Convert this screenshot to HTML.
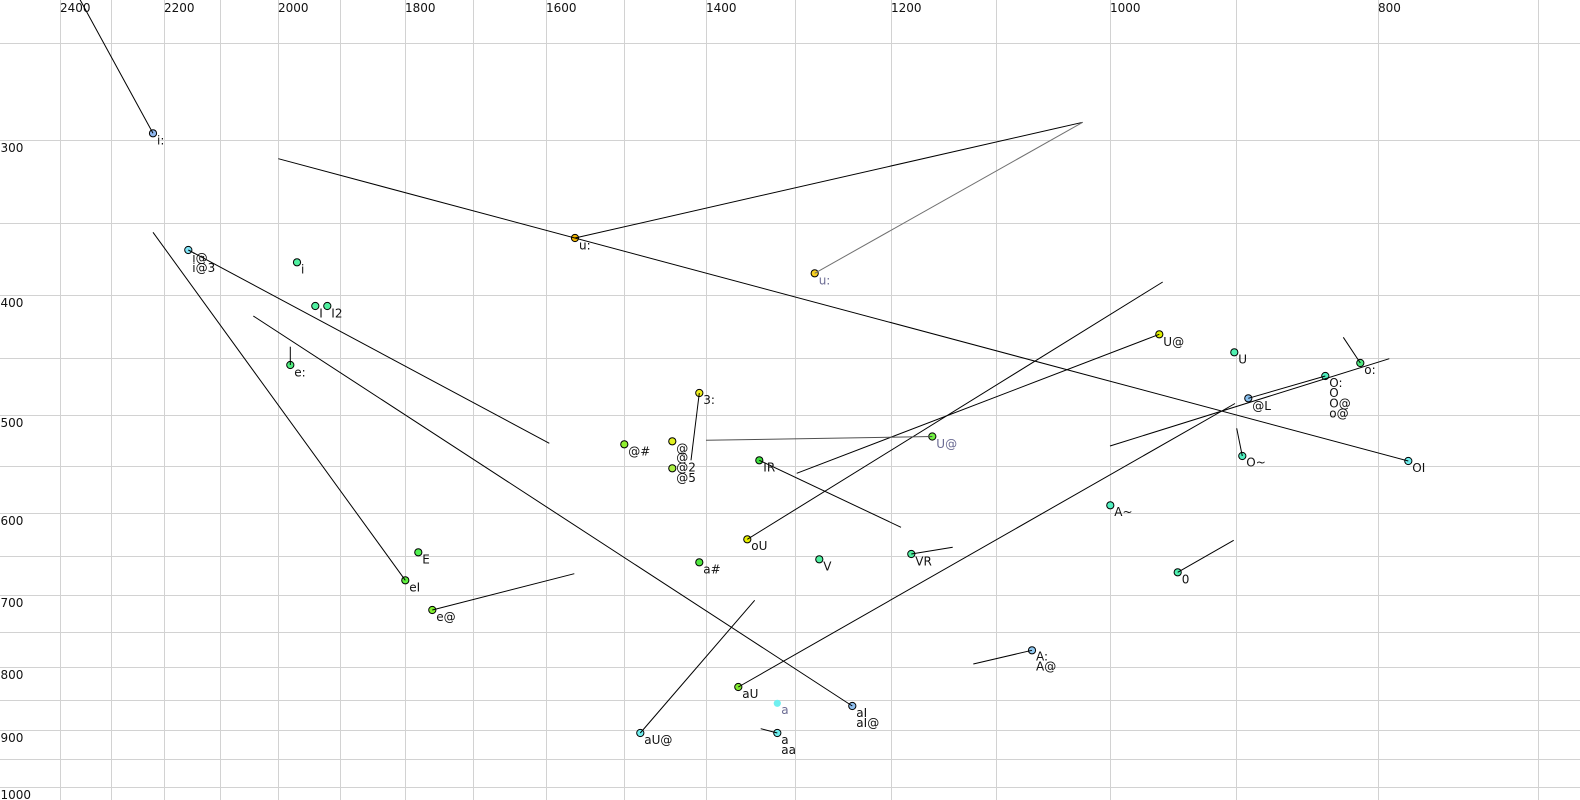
<!DOCTYPE html>
<html><head><meta charset="utf-8"><style>
html,body{margin:0;padding:0;background:#fff;}
svg{display:block;}
text{font-family:"DejaVu Sans","Liberation Sans",sans-serif;font-size:12px;}
</style></head><body>
<svg width="1580" height="800" viewBox="0 0 1580 800" xmlns="http://www.w3.org/2000/svg">
<rect width="1580" height="800" fill="#fff"/>
<g stroke="#d2d2d2" stroke-width="1" shape-rendering="crispEdges">
<line x1="60.5" y1="0" x2="60.5" y2="800"/>
<line x1="111.5" y1="0" x2="111.5" y2="800"/>
<line x1="164.5" y1="0" x2="164.5" y2="800"/>
<line x1="220.5" y1="0" x2="220.5" y2="800"/>
<line x1="278.5" y1="0" x2="278.5" y2="800"/>
<line x1="340.5" y1="0" x2="340.5" y2="800"/>
<line x1="405.5" y1="0" x2="405.5" y2="800"/>
<line x1="473.5" y1="0" x2="473.5" y2="800"/>
<line x1="546.5" y1="0" x2="546.5" y2="800"/>
<line x1="624.5" y1="0" x2="624.5" y2="800"/>
<line x1="706.5" y1="0" x2="706.5" y2="800"/>
<line x1="795.5" y1="0" x2="795.5" y2="800"/>
<line x1="891.5" y1="0" x2="891.5" y2="800"/>
<line x1="996.5" y1="0" x2="996.5" y2="800"/>
<line x1="1110.5" y1="0" x2="1110.5" y2="800"/>
<line x1="1236.5" y1="0" x2="1236.5" y2="800"/>
<line x1="1378.5" y1="0" x2="1378.5" y2="800"/>
<line x1="1538.5" y1="0" x2="1538.5" y2="800"/>
<line x1="0" y1="43.5" x2="1580" y2="43.5"/>
<line x1="0" y1="140.5" x2="1580" y2="140.5"/>
<line x1="0" y1="223.5" x2="1580" y2="223.5"/>
<line x1="0" y1="295.5" x2="1580" y2="295.5"/>
<line x1="0" y1="358.5" x2="1580" y2="358.5"/>
<line x1="0" y1="415.5" x2="1580" y2="415.5"/>
<line x1="0" y1="466.5" x2="1580" y2="466.5"/>
<line x1="0" y1="513.5" x2="1580" y2="513.5"/>
<line x1="0" y1="556.5" x2="1580" y2="556.5"/>
<line x1="0" y1="595.5" x2="1580" y2="595.5"/>
<line x1="0" y1="632.5" x2="1580" y2="632.5"/>
<line x1="0" y1="667.5" x2="1580" y2="667.5"/>
<line x1="0" y1="700.5" x2="1580" y2="700.5"/>
<line x1="0" y1="730.5" x2="1580" y2="730.5"/>
<line x1="0" y1="759.5" x2="1580" y2="759.5"/>
<line x1="0" y1="787.5" x2="1580" y2="787.5"/>
</g>
<g fill="#111">
<text x="60" y="12">2400</text>
<text x="164" y="12">2200</text>
<text x="278" y="12">2000</text>
<text x="405" y="12">1800</text>
<text x="546" y="12">1600</text>
<text x="706" y="12">1400</text>
<text x="891" y="12">1200</text>
<text x="1110" y="12">1000</text>
<text x="1378" y="12">800</text>
<text x="0.5" y="152">300</text>
<text x="0.5" y="307">400</text>
<text x="0.5" y="427">500</text>
<text x="0.5" y="525">600</text>
<text x="0.5" y="607">700</text>
<text x="0.5" y="679">800</text>
<text x="0.5" y="742">900</text>
<text x="0.5" y="799">1000</text>
</g>
<!-- points -->
<g stroke="#000" stroke-width="1">
<circle cx="153" cy="133.3" r="3.6" fill="#8fb8f0"/>
<circle cx="188.3" cy="250" r="3.6" fill="#80e4f8"/>
<circle cx="297" cy="262.3" r="3.6" fill="#50f0a0"/>
<circle cx="315.3" cy="306" r="3.6" fill="#50f0a0"/>
<circle cx="327.3" cy="306" r="3.6" fill="#50f0a0"/>
<circle cx="290.3" cy="365" r="3.6" fill="#50ee80"/>
<circle cx="418.3" cy="552.3" r="3.6" fill="#50f050"/>
<circle cx="405.3" cy="580.3" r="3.6" fill="#60f040"/>
<circle cx="432.3" cy="610" r="3.6" fill="#80f030"/>
<circle cx="575" cy="238" r="3.6" fill="#f0b400"/>
<circle cx="814.7" cy="273.3" r="3.6" fill="#f8d020"/>
<circle cx="699.3" cy="393" r="3.6" fill="#f0f020"/>
<circle cx="624.3" cy="444.3" r="3.6" fill="#90f030"/>
<circle cx="672.3" cy="441.3" r="3.6" fill="#e0f020"/>
<circle cx="672.3" cy="468.3" r="3.6" fill="#a8f040"/>
<circle cx="759.3" cy="460.3" r="3.6" fill="#40e040"/>
<circle cx="932.3" cy="436.5" r="3.6" fill="#70f040"/>
<circle cx="1159.3" cy="334.3" r="3.6" fill="#e0f000"/>
<circle cx="747.3" cy="539.3" r="3.6" fill="#e8f000"/>
<circle cx="699.3" cy="562.3" r="3.6" fill="#50e840"/>
<circle cx="819.3" cy="559.3" r="3.6" fill="#50f0a0"/>
<circle cx="911.3" cy="554" r="3.6" fill="#50f0a0"/>
<circle cx="738.3" cy="687" r="3.6" fill="#80e830"/>
<circle cx="777.3" cy="703.3" r="3.6" fill="#70f0f0" stroke="none"/>
<circle cx="852.3" cy="706" r="3.6" fill="#90c0f0"/>
<circle cx="640.3" cy="733" r="3.6" fill="#70f0f0"/>
<circle cx="777.3" cy="733" r="3.6" fill="#70f0f0"/>
<circle cx="1032" cy="650.3" r="3.6" fill="#90c8f0"/>
<circle cx="1242.3" cy="456" r="3.6" fill="#50f0c0"/>
<circle cx="1408.3" cy="461" r="3.6" fill="#70f0f0"/>
<circle cx="1110.3" cy="505.3" r="3.6" fill="#50f0c0"/>
<circle cx="1177.7" cy="572.3" r="3.6" fill="#50f0b0"/>
<circle cx="1248.3" cy="398.3" r="3.6" fill="#88c0f0"/>
<circle cx="1325.3" cy="376" r="3.6" fill="#50f0c0"/>
<circle cx="1360.3" cy="363" r="3.6" fill="#50e880"/>
<circle cx="1234.3" cy="352.3" r="3.6" fill="#50f0b0"/>
</g>
<!-- lines -->
<g stroke="#000" stroke-width="1" fill="none">
<line x1="153" y1="133.3" x2="78" y2="-4"/>
<line x1="188.3" y1="250" x2="549.3" y2="443.3"/>
<line x1="290.3" y1="365" x2="290.3" y2="346.7"/>
<line x1="405.3" y1="580.3" x2="153" y2="232.3"/>
<line x1="432.3" y1="610" x2="574.3" y2="573.7"/>
<line x1="575" y1="238" x2="1082.7" y2="122.3"/>
<line x1="699.3" y1="393" x2="691" y2="460.3"/>
<line x1="759.3" y1="460.3" x2="901" y2="527.3"/>
<line x1="1159.3" y1="334.3" x2="796.7" y2="473.3"/>
<line x1="747.3" y1="539.3" x2="1162.7" y2="282"/>
<line x1="911.3" y1="554" x2="952.7" y2="547.3"/>
<line x1="738.3" y1="687" x2="1235" y2="403.5"/>
<line x1="852.3" y1="706" x2="253.3" y2="316"/>
<line x1="640.3" y1="733" x2="754.7" y2="600.3"/>
<line x1="777.3" y1="733" x2="760.7" y2="728.7"/>
<line x1="1032" y1="650.3" x2="973.3" y2="664"/>
<line x1="1242.3" y1="456" x2="1236.7" y2="428.3"/>
<line x1="1408.3" y1="461" x2="278.3" y2="158.7"/>
<line x1="1177.7" y1="572.3" x2="1233.7" y2="540.3"/>
<line x1="1248.3" y1="398.3" x2="1325.3" y2="376"/>
<line x1="1360.3" y1="363" x2="1343.3" y2="337.3"/>
<line x1="1110" y1="446" x2="1389.3" y2="358.7"/>
</g>
<g fill="none" stroke-width="1">
<line x1="814.7" y1="273.3" x2="1082.7" y2="122.3" stroke="#707070"/>
<line x1="932.3" y1="436.5" x2="706" y2="440.3" stroke="#505050"/>
</g>
<!-- labels -->
<g fill="#111">
<text x="157" y="144.5">i:</text>
<text x="192.3" y="261.8">i@</text>
<text x="192.3" y="271.8">i@3</text>
<text x="301" y="273.3">i</text>
<text x="319.3" y="317.3">I</text>
<text x="331.3" y="317.3">I2</text>
<text x="294.3" y="376.5">e:</text>
<text x="422.3" y="563.3">E</text>
<text x="409.3" y="591.5">eI</text>
<text x="436.3" y="621">e@</text>
<text x="579" y="249.3">u:</text>
<text x="703.3" y="404">3:</text>
<text x="628.3" y="455.5">@#</text>
<text x="676.3" y="452.3">@</text>
<text x="676.3" y="461.5">@</text>
<text x="676.3" y="471.6">@2</text>
<text x="676.3" y="481.8">@5</text>
<text x="763.3" y="471.5">IR</text>
<text x="1163.3" y="346">U@</text>
<text x="751.3" y="550">oU</text>
<text x="703.3" y="573.3">a#</text>
<text x="823.3" y="570.3">V</text>
<text x="915.3" y="565.5">VR</text>
<text x="742.3" y="698">aU</text>
<text x="856.3" y="716.8">aI</text>
<text x="856.3" y="726.8">aI@</text>
<text x="644.3" y="744">aU@</text>
<text x="781.3" y="744">a</text>
<text x="781.3" y="754">aa</text>
<text x="1036" y="660.3">A:</text>
<text x="1036" y="670.5">A@</text>
<text x="1246.3" y="466.7">O~</text>
<text x="1412.3" y="471.8">OI</text>
<text x="1114.3" y="516">A~</text>
<text x="1181.7" y="583.3">0</text>
<text x="1252.3" y="409.8">@L</text>
<text x="1329.3" y="387">O:</text>
<text x="1329.3" y="397.2">O</text>
<text x="1329.3" y="407.3">O@</text>
<text x="1329.3" y="417.5">o@</text>
<text x="1364.3" y="374">o:</text>
<text x="1238.3" y="363.3">U</text>
</g>
<g fill="#6c6c94">
<text x="818.7" y="284.3">u:</text>
<text x="936.3" y="447.8">U@</text>
<text x="781.3" y="714">a</text>
</g>
</svg>
</body></html>
